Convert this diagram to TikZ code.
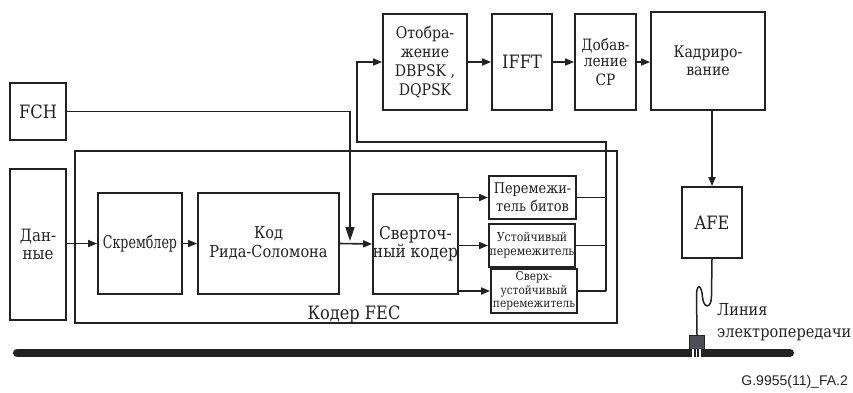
\documentclass[tikz,border=0pt]{standalone}
\usepackage{fontspec}
\setmainfont{DejaVu Serif}[FakeStretch=0.88]
\newfontfamily\textserif{DejaVu Serif}[FakeStretch=0.88]
\newfontfamily\labelsans{Liberation Sans}
\usetikzlibrary{arrows.meta}
\definecolor{ink}{HTML}{222222}
\definecolor{plugbody}{HTML}{4A4F55}
\newcommand{\fsz}[2]{\textserif\fontsize{#1}{#2}\selectfont}
\begin{document}
\begin{tikzpicture}[x=1pt,y=-1pt,
  blk/.style={draw=ink,line width=1.8pt,inner sep=0pt,align=center,text=ink},
  wire/.style={draw=ink,line width=1.6pt},
  arr/.style={wire,-{Triangle[length=9pt,width=7pt]}},
  bigarr/.style={wire,-{Triangle[length=14pt,width=9pt]}},
  lbl/.style={text=ink,inner sep=0pt}]
\useasboundingbox (0,0) rectangle (853,392);

% power line bus
\draw[ink,line width=8pt,line cap=round] (17,353) -- (790,353);

% FEC encoder frame
\node[blk,minimum width=542pt,minimum height=172pt] (fec) at (346,237) {};
\node[lbl,anchor=base,font=\fsz{18.4}{18}] (fecl) at (354,319) {Кодер FEC};

% source blocks
\node[blk,minimum width=56pt,minimum height=57pt,font=\fsz{18.4}{18}] (fch) at (38,111.5) {FCH};
\node[blk,minimum width=56pt,minimum height=151pt,font=\fsz{17}{17.5}] (data) at (38,244.5) {Дан-\\ные};

% encoder chain
\node[blk,minimum width=84pt,minimum height=101pt,font=\fsz{17.5}{18}] (scr) at (140,243.5) {\scalebox{0.82}[1]{Скремблер}};
\node[blk,minimum width=141pt,minimum height=101pt,font=\fsz{16.5}{19}] (rs) at (268.5,243.5) {Код\\Рида-Соломона};
\node[blk,minimum width=85pt,minimum height=100pt,font=\fsz{17.5}{18.5}] (conv) at (415.5,244) {Сверточ-\\ный кодер};

% interleavers
\node[blk,minimum width=87pt,minimum height=43pt,font=\fsz{14.7}{18}] (il1) at (532.5,197.5) {Перемежи-\\тель битов};
\node[blk,minimum width=86pt,minimum height=43pt,font=\fsz{12.4}{14}] (il2) at (532,245.5) {Устойчивый\\перемежитель};
\node[blk,minimum width=86pt,minimum height=44pt,font=\fsz{12}{13.5}] (il3) at (534,291) {Сверх-\\устойчивый\\перемежитель};

% modulation chain
\node[blk,minimum width=84pt,minimum height=96pt,font=\fsz{16}{19}] (map) at (425,62) {Отобра-\\жение\\DBPSK ,\\DQPSK};
\node[blk,minimum width=60pt,minimum height=96pt,font=\fsz{18.4}{18}] (ifft) at (522,62) {IFFT};
\node[blk,minimum width=61pt,minimum height=96pt,font=\fsz{15.6}{16}] (cp) at (605.5,62) {Добав-\\ление\\[3pt]CP};
\node[blk,minimum width=114pt,minimum height=98pt,font=\fsz{16}{18}] (frame) at (708,61) {Кадриро-\\вание};
\node[blk,minimum width=60pt,minimum height=71pt,font=\fsz{18.4}{18}] (afe) at (712,222.5) {AFE};

% routing points
\coordinate (merge) at (350,241);
\coordinate (busb) at (606,291);
\coordinate (bust) at (606,142);
\coordinate (turn) at (357,142);
\coordinate (plugtop) at (697,335);

% connectors
\draw[bigarr] (fch.east) -| (merge);
\draw[arr] (scr.west -| data.east) -- (scr.west);
\draw[arr] (scr.east) -- (rs.west);
\draw[arr] (rs.east) -- (conv.west);
\draw[arr] (conv.east |- il1.west) -- (il1.west);
\draw[arr] (conv.east |- il2.west) -- (il2.west);
\draw[arr] (conv.east |- il3.west) -- (il3.west);
\draw[wire] (il1.east) -- (il1.east -| busb);
\draw[wire] (il2.east) -- (il2.east -| busb);
\draw[wire] (il3.east) -- (busb);
\draw[arr] (busb) -- (bust) -- (turn) |- (map.west);
\draw[arr] (map.east) -- (ifft.west);
\draw[arr] (ifft.east) -- (cp.west);
\draw[arr] (cp.east) -- (frame.west |- cp.east);
\draw[arr] (afe.north |- frame.south) -- (afe.north);

% cable from AFE to the plug, with its hook
\draw[ink,line width=1.5pt] (afe.south) -- (711.5,296)
  .. controls (711.5,309) and (703.5,309) .. (702.5,297)
  .. controls (701.5,284) and (696.5,283) .. (696.5,296) -- (plugtop);

% plug on the power line
\node[draw=ink,fill=plugbody,line width=0.8pt,minimum width=15pt,minimum height=14pt,inner sep=0pt,anchor=north] (plug) at (plugtop) {};
\foreach \px in {693,696.5,700}
  \fill[white] (\px-0.8,349) rectangle (\px+0.8,356.5);

% line label
\node[lbl,anchor=base west,font=\fsz{16.5}{18}] (line1) at (717,315) {Линия};
\node[lbl,anchor=base west,font=\fsz{16.5}{18}] (line2) at (717,337) {электропередачи};

% figure tag
\node[lbl,anchor=base east,font=\labelsans\fontsize{14}{14}\selectfont] (tag) at (848,385) {G.9955(11)\_FA.2};
\end{tikzpicture}
\end{document}
